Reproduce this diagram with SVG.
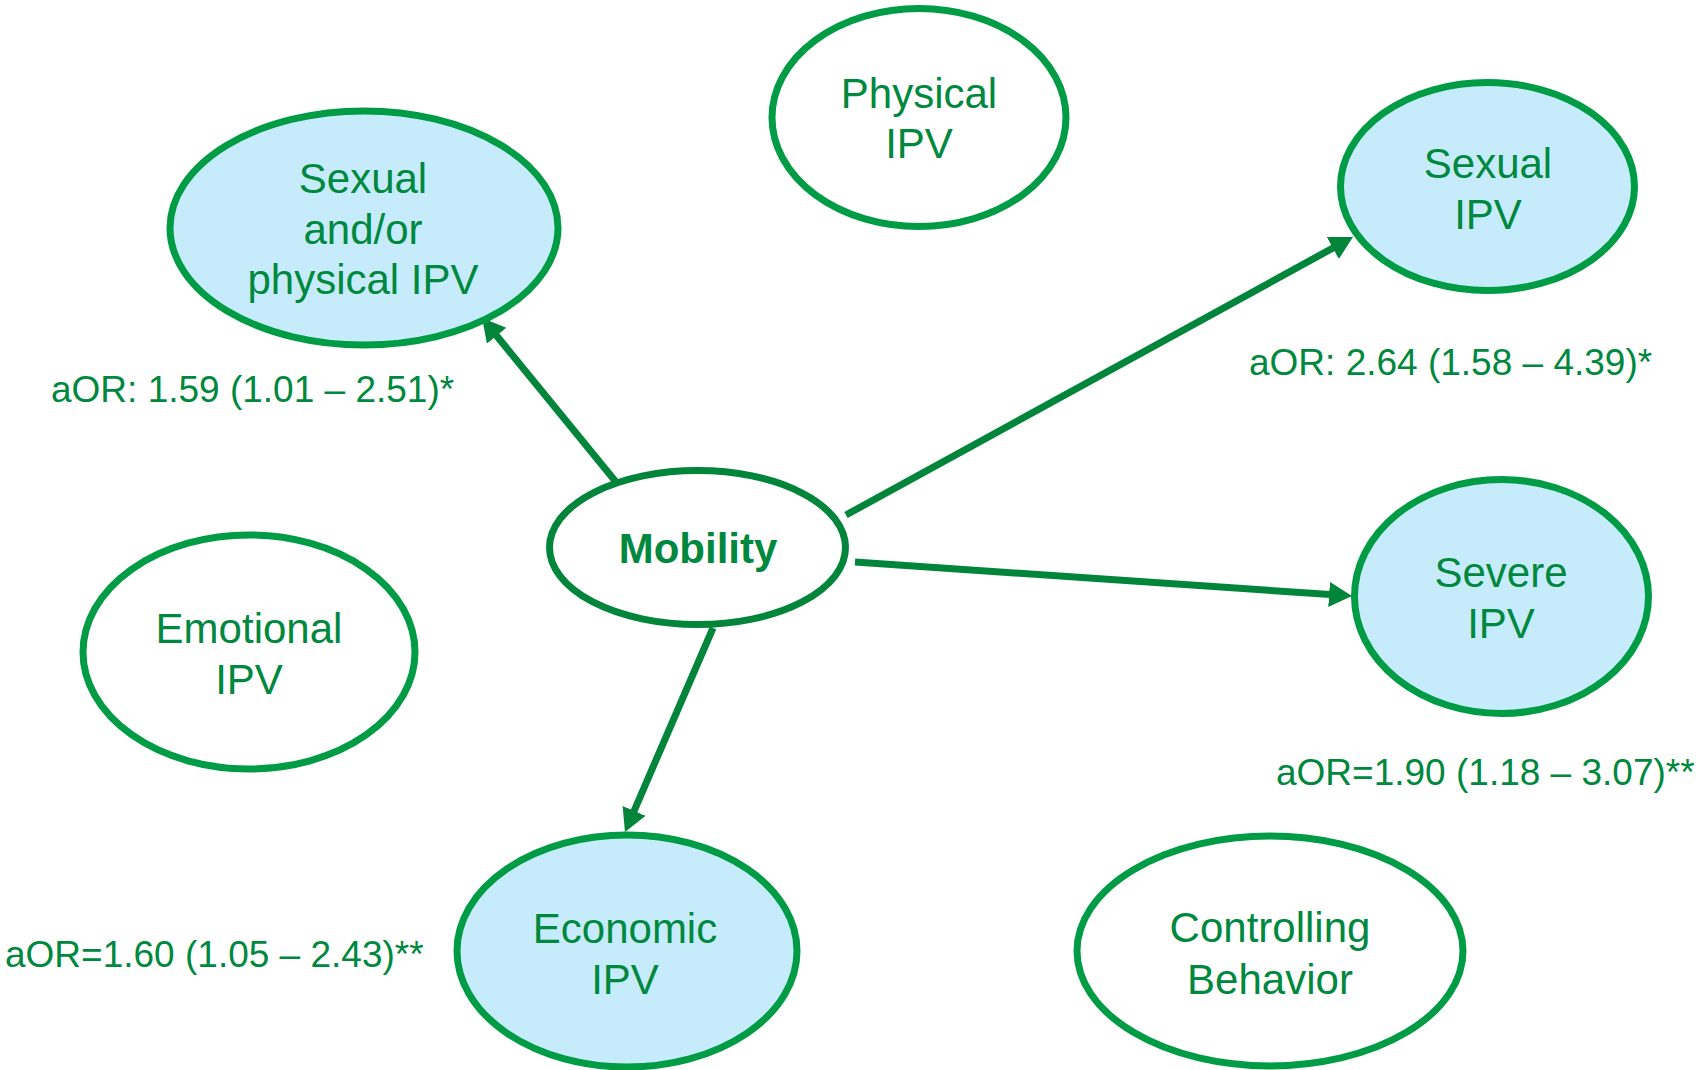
<svg xmlns="http://www.w3.org/2000/svg" width="1703" height="1070" viewBox="0 0 1703 1070">
  <defs>
    <style>
      .node { stroke: #009c45; stroke-width: 7; fill: #ffffff; }
      .hit { fill: #c6ecfc; }
      .hub { stroke: #00853a; stroke-width: 7; fill: #ffffff; }
      .lbl { font-family: "Liberation Sans", Arial, sans-serif; font-size: 42px; fill: #00883e; text-anchor: middle; }
      .hubtxt { font-weight: bold; }
      .aor { font-family: "Liberation Sans", Arial, sans-serif; font-size: 37px; fill: #00883e; }
      .link { stroke: #00853a; stroke-width: 7; fill: none; stroke-linecap: butt; marker-end: url(#head); }
    </style>
    <marker id="head" markerUnits="userSpaceOnUse" markerWidth="24" markerHeight="26" refX="1" refY="12.5" orient="auto">
      <path d="M0,0 L23,12.5 L0,25 z" fill="#00853a"/>
    </marker>
  </defs>

  <rect width="1703" height="1070" fill="#ffffff"/>

  <!-- connectors from Mobility to outcomes -->
  <g id="connectors">
    <line class="link" x1="616" y1="482" x2="496.0" y2="335.0"/>
    <line class="link" x1="846" y1="515" x2="1333.7" y2="247.6"/>
    <line class="link" x1="855" y1="562" x2="1330.1" y2="594.5"/>
    <line class="link" x1="713" y1="628" x2="633.7" y2="811.8"/>
  </g>

  <g id="node-sexual-physical">
    <ellipse class="node hit" cx="364" cy="228" rx="194" ry="117"/>
    <text class="lbl" x="363" y="193">Sexual</text>
    <text class="lbl" x="363" y="244">and/or</text>
    <text class="lbl" x="363" y="294">physical IPV</text>
  </g>

  <g id="node-physical">
    <ellipse class="node" cx="919" cy="117.5" rx="147" ry="109"/>
    <text class="lbl" x="919" y="108">Physical</text>
    <text class="lbl" x="919" y="158">IPV</text>
  </g>

  <g id="node-sexual">
    <ellipse class="node hit" cx="1487.5" cy="186.5" rx="147" ry="104"/>
    <text class="lbl" x="1488" y="178">Sexual</text>
    <text class="lbl" x="1488" y="229">IPV</text>
  </g>

  <g id="node-mobility">
    <ellipse class="hub" cx="697.5" cy="547.5" rx="148" ry="77"/>
    <text class="lbl hubtxt" x="698" y="563">Mobility</text>
  </g>

  <g id="node-emotional">
    <ellipse class="node" cx="249" cy="652" rx="166" ry="117"/>
    <text class="lbl" x="249" y="643">Emotional</text>
    <text class="lbl" x="249" y="694">IPV</text>
  </g>

  <g id="node-severe">
    <ellipse class="node hit" cx="1501.5" cy="596.5" rx="147" ry="117"/>
    <text class="lbl" x="1501" y="587">Severe</text>
    <text class="lbl" x="1501" y="638">IPV</text>
  </g>

  <g id="node-economic">
    <ellipse class="node hit" cx="627" cy="951" rx="170" ry="116"/>
    <text class="lbl" x="625" y="943">Economic</text>
    <text class="lbl" x="625" y="994">IPV</text>
  </g>

  <g id="node-controlling">
    <ellipse class="node" cx="1270" cy="951" rx="193" ry="115"/>
    <text class="lbl" x="1270" y="942">Controlling</text>
    <text class="lbl" x="1270" y="994">Behavior</text>
  </g>

  <!-- adjusted odds ratios -->
  <g id="estimates">
    <text class="aor" x="51" y="402">aOR: 1.59 (1.01 – 2.51)*</text>
    <text class="aor" x="1249" y="375">aOR: 2.64 (1.58 – 4.39)*</text>
    <text class="aor" x="1276" y="785">aOR=1.90 (1.18 – 3.07)**</text>
    <text class="aor" x="5" y="967">aOR=1.60 (1.05 – 2.43)**</text>
  </g>
</svg>
